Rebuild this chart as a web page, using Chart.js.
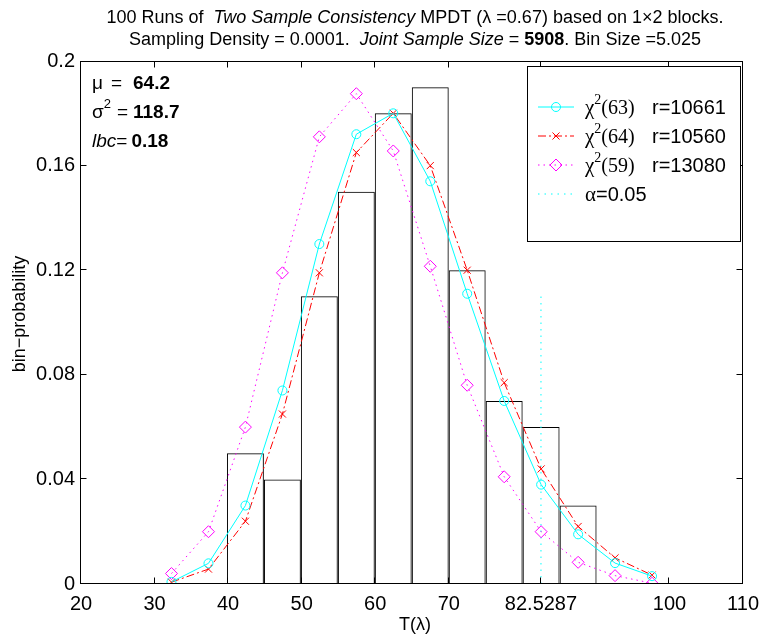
<!DOCTYPE html>
<html>
<head>
<meta charset="utf-8">
<script src="https://cdn.jsdelivr.net/npm/chart.js@4.4.0/dist/chart.umd.min.js"></script>
<style>
  html, body { margin: 0; padding: 0; background: #fff; }
  canvas { display: block; }
</style>
</head>
<body>
<canvas id="histChart" width="767" height="641"></canvas>
<script>
const SANS = '"Liberation Sans", Arial, Helvetica, sans-serif';
const SERIF = '"Liberation Serif", "Times New Roman", serif';

/* data */
const binCenters = [32.3, 37.33, 42.35, 47.38, 52.4, 57.43, 62.45, 67.48, 72.5, 77.53, 82.55, 87.58, 92.6, 97.63];
const histCenters = [42.35, 47.38, 52.4, 57.43, 62.45, 67.48, 72.5, 77.53, 82.55, 87.58];
const histProb = [0.05, 0.04, 0.11, 0.15, 0.18, 0.19, 0.12, 0.07, 0.06, 0.03];
const chi63 = [0.0008, 0.0079, 0.030, 0.074, 0.130, 0.172, 0.180, 0.154, 0.111, 0.070, 0.038, 0.019, 0.008, 0.003];
const chi64 = [0.0007, 0.0057, 0.024, 0.065, 0.119, 0.165, 0.180, 0.160, 0.120, 0.077, 0.044, 0.022, 0.010, 0.0034];
const chi59 = [0.004, 0.020, 0.060, 0.119, 0.171, 0.1875, 0.1656, 0.1215, 0.076, 0.041, 0.020, 0.0083, 0.0032, 0.0003];
const alphaX = 82.5287;
const alphaTop = 0.11;

const xTicks = [20, 30, 40, 50, 60, 70, 82.5287, 100, 110];
const xTickLabels = ['20', '30', '40', '50', '60', '70', '82.5287', '100', '110'];
const yTicks = [0, 0.04, 0.08, 0.12, 0.16, 0.2];
const yTickLabels = ['0', '0.04', '0.08', '0.12', '0.16', '0.2'];

const seriesDf = ['63', '64', '59'];
const seriesR = ['10661', '10560', '13080'];
const alphaLabel = '=0.05';

const statMu = '64.2';
const statVar = '118.7';
const statLbc = '0.18';

const toXY = (xs, ys) => xs.map((x, i) => ({ x: x, y: ys[i] }));

// draw text pieces one after another, returns end x
function runText(ctx, parts, x, y) {
  parts.forEach(p => {
    ctx.font = p.font;
    ctx.fillText(p.t, x, y + (p.dy || 0));
    x += ctx.measureText(p.t).width;
  });
  return x;
}
function runWidth(ctx, parts) {
  let w = 0;
  parts.forEach(p => { ctx.font = p.font; w += ctx.measureText(p.t).width; });
  return w;
}

const decorPlugin = {
  id: 'decor',
  afterDraw(chart) {
    const ctx = chart.ctx;
    const a = chart.chartArea;
    const xs = chart.scales.x, ys = chart.scales.y;
    ctx.save();

    // frame + inward ticks
    const L = Math.round(a.left) - 0.5, R = Math.round(a.right) - 0.5;
    const T = Math.round(a.top) + 0.5, B = Math.round(a.bottom) - 0.5;
    ctx.strokeStyle = '#000';
    ctx.lineWidth = 1;
    ctx.strokeRect(L, T, R - L, B - T);
    ctx.beginPath();
    xTicks.forEach(v => {
      const p = Math.round(xs.getPixelForValue(v)) - 0.5;
      if (p <= L + 1 || p >= R - 1) return;
      ctx.moveTo(p, B); ctx.lineTo(p, B - 6);
      ctx.moveTo(p, T); ctx.lineTo(p, T + 6);
    });
    yTicks.forEach(v => {
      const p = Math.round(ys.getPixelForValue(v)) - 0.5;
      if (p <= T + 1 || p >= B - 1) return;
      ctx.moveTo(L, p); ctx.lineTo(L + 6, p);
      ctx.moveTo(R, p); ctx.lineTo(R - 6, p);
    });
    ctx.stroke();

    ctx.fillStyle = '#000';
    ctx.textBaseline = 'alphabetic';
    ctx.textAlign = 'left';

    // title (two lines, mixed styles)
    const tf = '18px ' + SANS, ti = 'italic 18px ' + SANS, tb = 'bold 18px ' + SANS;
    const line1 = [
      { t: '100 Runs of  ', font: tf },
      { t: 'Two Sample Consistency', font: ti },
      { t: ' MPDT (\u03bb =0.67) based on 1\u00d72 blocks.', font: tf }
    ];
    const line2 = [
      { t: 'Sampling Density = 0.0001.  ', font: tf },
      { t: 'Joint Sample Size', font: ti },
      { t: ' = ', font: tf },
      { t: '5908', font: tb },
      { t: '. Bin Size =5.025', font: tf }
    ];
    const cx = (a.left + a.right) / 2 + 3;
    runText(ctx, line1, cx - runWidth(ctx, line1) / 2, 23);
    runText(ctx, line2, cx - runWidth(ctx, line2) / 2, 45);

    // statistics text
    const sf = '19px ' + SANS, sb = 'bold 19px ' + SANS, si = 'italic 19px ' + SANS, sup = '13px ' + SANS;
    runText(ctx, [{ t: '\u03bc', font: sf }], 92, 89);
    runText(ctx, [{ t: '=', font: sf }], 111, 89);
    runText(ctx, [{ t: statMu, font: sb }], 133, 89);
    runText(ctx, [{ t: '\u03c3', font: sf }, { t: '2', font: sup, dy: -10 }], 92, 118);
    runText(ctx, [{ t: '=', font: sf }], 117, 118);
    runText(ctx, [{ t: statVar, font: sb }], 133, 118);
    const lx = runText(ctx, [{ t: 'lbc', font: si }, { t: '=', font: sf }], 92, 147);
    runText(ctx, [{ t: statLbc, font: sb }], lx + 4, 147);

    // legend box
    const bx = 527.5, by = 66.5, bw = 213, bh = 175;
    ctx.fillStyle = '#fff';
    ctx.fillRect(bx, by, bw, bh);
    ctx.strokeStyle = '#000';
    ctx.strokeRect(bx, by, bw, bh);
    const rows = [114, 143, 172, 201];
    const lineDs = chart.data.datasets.filter(d => d.legendRow !== undefined);
    lineDs.forEach(ds => {
      const yb = rows[ds.legendRow];
      const ym = yb - 7;
      ctx.save();
      ctx.strokeStyle = ds.borderColor;
      ctx.fillStyle = 'rgba(0,0,0,0)';
      ctx.lineWidth = 1;
      ctx.setLineDash(ds.borderDash || []);
      ctx.beginPath();
      ctx.moveTo(538, ym); ctx.lineTo(574, ym);
      ctx.stroke();
      ctx.setLineDash([]);
      if (ds.pointStyle && ds.pointRadius > 0) {
        Chart.helpers.drawPoint(ctx, {
          pointStyle: ds.pointStyle, radius: ds.pointRadius, rotation: 0,
          borderWidth: 1
        }, 556, ym);
      }
      ctx.restore();
      ctx.fillStyle = '#000';
      if (ds.legendRow < 3) {
        runText(ctx, [
          { t: '\u03c7', font: '21px ' + SERIF },
          { t: '2', font: '14px ' + SERIF, dy: -10 },
          { t: '(' + seriesDf[ds.legendRow] + ')', font: '20px ' + SERIF }
        ], 585, yb);
        runText(ctx, [{ t: 'r=' + seriesR[ds.legendRow], font: '20px ' + SANS }], 652, yb);
      } else {
        runText(ctx, [
          { t: '\u03b1', font: '21px ' + SERIF },
          { t: alphaLabel, font: '20px ' + SANS }
        ], 585, yb);
      }
    });

    // axis titles
    ctx.fillStyle = '#000';
    ctx.font = '18px ' + SANS;
    ctx.textAlign = 'center';
    ctx.textBaseline = 'middle';
    ctx.fillText('T(\u03bb)', cx, 625);
    ctx.translate(20, 314);
    ctx.rotate(-Math.PI / 2);
    ctx.fillText('bin\u2212probability', 0, 0);
    ctx.restore();
  }
};

const ctx = document.getElementById('histChart').getContext('2d');
const histChart = new Chart(ctx, {
  type: 'line',
  data: {
    datasets: [
      {
        label: 'chi2(63)',
        legendRow: 0,
        data: toXY(binCenters, chi63),
        borderColor: '#00FFFF',
        backgroundColor: 'rgba(0,0,0,0)',
        borderWidth: 1,
        pointStyle: 'circle',
        pointRadius: 4.5,
        pointBorderColor: '#00FFFF',
        pointBackgroundColor: 'rgba(0,0,0,0)',
        tension: 0,
        order: 1
      },
      {
        label: 'chi2(64)',
        legendRow: 1,
        data: toXY(binCenters, chi64),
        borderColor: '#FF0000',
        backgroundColor: 'rgba(0,0,0,0)',
        borderWidth: 1,
        borderDash: [8, 3, 2, 3],
        pointStyle: 'crossRot',
        pointRadius: 5,
        pointBorderColor: '#FF0000',
        tension: 0,
        order: 1
      },
      {
        label: 'chi2(59)',
        legendRow: 2,
        data: toXY(binCenters, chi59),
        borderColor: '#FF00FF',
        backgroundColor: 'rgba(0,0,0,0)',
        borderWidth: 1,
        borderDash: [1.5, 4],
        pointStyle: 'rectRot',
        pointRadius: 6,
        pointBorderColor: '#FF00FF',
        pointBackgroundColor: 'rgba(0,0,0,0)',
        tension: 0,
        order: 1
      },
      {
        label: 'alpha=0.05',
        legendRow: 3,
        data: [{ x: alphaX, y: 0 }, { x: alphaX, y: alphaTop }],
        borderColor: '#00FFFF',
        borderWidth: 1,
        borderDash: [1.5, 5],
        pointRadius: 0,
        order: 2
      },
      {
        type: 'bar',
        label: 'histogram',
        data: toXY(histCenters, histProb),
        backgroundColor: 'rgba(0,0,0,0)',
        borderColor: '#000',
        borderWidth: 1,
        borderSkipped: false,
        inflateAmount: 0,
        barPercentage: 1,
        categoryPercentage: 1,
        order: 10
      }
    ]
  },
  options: {
    responsive: false,
    animation: false,
    devicePixelRatio: 1,
    layout: { padding: { left: 0, right: 20, top: 61, bottom: 0 } },
    plugins: {
      legend: { display: false },
      title: { display: false },
      tooltip: { enabled: false }
    },
    scales: {
      x: {
        type: 'linear',
        min: 20,
        max: 110,
        offset: false,
        grid: { display: false, drawTicks: false },
        border: { display: false },
        afterBuildTicks: s => { s.ticks = xTicks.map(v => ({ value: v })); },
        afterFit: s => { s.height = 57; },
        ticks: {
          padding: 8,
          color: '#000',
          font: { family: SANS, size: 20 },
          autoSkip: false,
          maxRotation: 0,
          callback: v => xTickLabels[xTicks.indexOf(v)]
        }
      },
      y: {
        min: 0,
        max: 0.2,
        grid: { display: false, drawTicks: false },
        border: { display: false },
        afterBuildTicks: s => { s.ticks = yTicks.map(v => ({ value: v })); },
        afterFit: s => { s.width = 81; },
        ticks: {
          padding: 6,
          color: '#000',
          font: { family: SANS, size: 20 },
          callback: v => yTickLabels[yTicks.indexOf(v)]
        }
      }
    }
  },
  plugins: [decorPlugin]
});
</script>
</body>
</html>
